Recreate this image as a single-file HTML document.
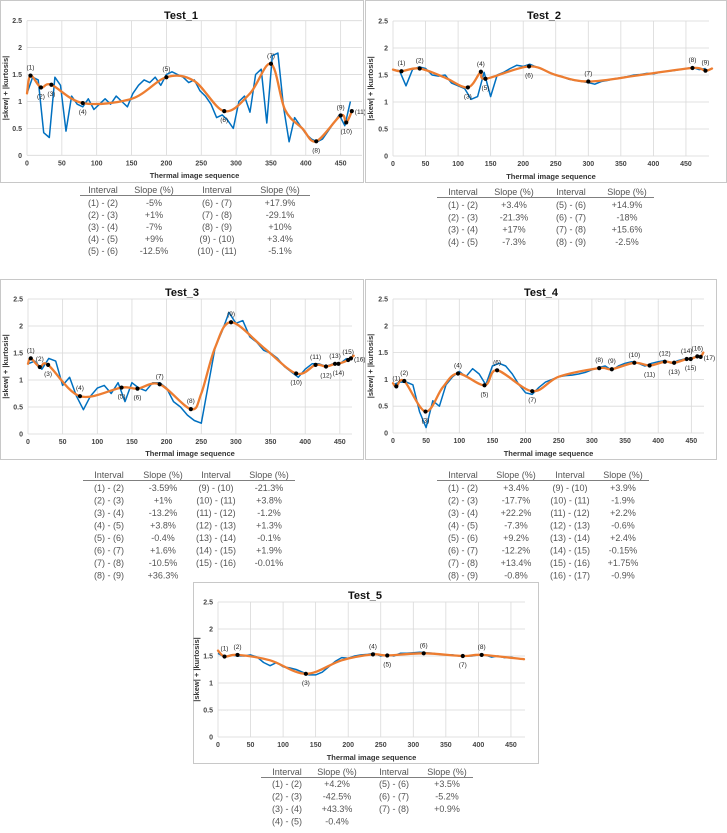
<!DOCTYPE html>
<html><head><meta charset="utf-8"><style>
body{margin:0;background:#fff}
svg{display:block;font-family:"Liberation Sans",Arial,sans-serif}
</style></head><body>
<svg id="fig" width="727" height="833" viewBox="0 0 727 833" xmlns="http://www.w3.org/2000/svg"></svg>
<script>
// ---------- Data ----------
const xTicks=[0,50,100,150,200,250,300,350,400,450];
const yTicks=[0,0.5,1,1.5,2,2.5];
const yTickLabels=["0","0.5","1","1.5","2","2.5"];

// Test_1
const t1BlueX=[0,8,16,24,32,40,48,56,64,72,80,88,96,104,112,120,128,136,144,152,160,168,176,184,192,200,208,216,224,232,240,248,256,264,272,280,288,296,304,312,320,328,336,344,352,360,368,376,384,392,400,408,416,424,432,440,448,456,464];
const t1BlueY=[1.15,1.45,1.4,0.42,0.33,1.45,1.3,0.45,1.1,0.95,0.9,1.05,0.85,0.95,1.05,0.95,1.1,1.0,0.9,1.15,1.3,1.4,1.35,1.45,1.3,1.5,1.55,1.5,1.45,1.35,1.4,1.2,1.1,0.95,0.7,0.75,0.65,0.5,1.0,1.1,0.8,1.5,1.6,0.6,1.85,1.9,0.9,0.25,0.7,0.55,0.4,0.3,0.25,0.3,0.45,0.6,0.75,0.55,1.0];
const t1TrendX=[0,5,20,35,80,150,200,240,283,320,350,370,395,415,450,458,466];
const t1TrendY=[1.15,1.48,1.26,1.31,0.97,1.05,1.45,1.38,0.82,1.15,1.70,0.85,0.5,0.26,0.74,0.61,0.82];
const t1MarkX=[5,20,35,80,200,283,350,415,450,458,466];
const t1MarkY=[1.48,1.26,1.31,0.97,1.45,0.82,1.70,0.26,0.74,0.61,0.82];
const t1LabelSide=[1,-1,-1,-1,1,-1,1,-1,1,-1,0];

// Test_2
const t2BlueX=[0,10,20,30,40,50,60,70,80,90,100,110,120,130,140,150,160,170,180,190,200,210,220,230,240,250,260,270,280,290,300,310,320,330,340,350,360,370,380,390,400,410,420,430,440,450,460,470,480];
const t2BlueY=[1.6,1.58,1.3,1.6,1.65,1.62,1.5,1.48,1.5,1.35,1.3,1.25,1.05,1.1,1.55,1.1,1.5,1.55,1.62,1.68,1.66,1.7,1.65,1.6,1.55,1.5,1.47,1.42,1.4,1.38,1.36,1.33,1.38,1.4,1.43,1.45,1.47,1.5,1.51,1.53,1.52,1.55,1.57,1.58,1.6,1.62,1.64,1.6,1.62];
const t2TrendX=[0,13,41,80,115,135,142,209,250,300,380,460,480,490];
const t2TrendY=[1.6,1.57,1.62,1.45,1.27,1.56,1.43,1.66,1.5,1.38,1.5,1.63,1.58,1.62];
const t2MarkX=[13,41,115,135,142,209,300,460,480];
const t2MarkY=[1.57,1.62,1.27,1.56,1.43,1.66,1.38,1.63,1.58];
const t2LabelSide=[1,1,-1,1,-1,-1,1,1,1];

// Test_3
const t3BlueX=[0,10,20,30,40,50,60,70,80,90,100,110,120,130,140,150,160,170,180,190,200,210,220,230,240,250,260,270,280,290,300,310,320,330,340,350,360,370,380,390,400,410,420,430,440,450,460];
const t3BlueY=[1.3,1.35,1.2,1.4,1.35,0.9,1.05,0.7,0.45,0.7,0.85,0.9,0.75,0.95,0.6,0.95,0.85,0.8,0.95,0.95,0.85,0.6,0.5,0.35,0.25,0.2,0.9,1.6,1.9,2.25,2.05,2.1,1.8,1.7,1.55,1.5,1.4,1.25,1.15,1.05,1.2,1.3,1.3,1.25,1.3,1.3,1.4];
const t3TrendX=[0,4,17,29,75,135,158,190,235,250,270,293,340,387,415,430,443,448,462,470];
const t3TrendY=[1.3,1.40,1.24,1.28,0.70,0.86,0.84,0.92,0.46,0.75,1.6,2.07,1.6,1.12,1.28,1.25,1.30,1.30,1.37,1.45];
const t3MarkX=[4,17,29,75,135,158,190,235,293,387,415,430,443,448,462,466];
const t3MarkY=[1.40,1.24,1.28,0.70,0.86,0.84,0.92,0.46,2.07,1.12,1.28,1.25,1.30,1.30,1.37,1.40];
const t3LabelSide=[1,1,-1,1,-1,-1,1,1,1,-1,1,-1,1,-1,1,0];

// Test_4
const t4BlueX=[0,10,20,30,40,50,60,70,80,90,100,110,120,130,140,150,160,170,180,190,200,210,220,230,240,250,260,270,280,290,300,310,320,330,340,350,360,370,380,390,400,410,420,430,440,450,460];
const t4BlueY=[0.9,0.95,0.95,0.9,0.4,0.1,0.6,0.5,0.9,1.05,1.15,1.05,1.2,1.1,0.9,1.25,1.3,1.25,1.1,0.9,0.75,0.72,0.85,0.95,1.0,1.05,1.07,1.08,1.1,1.13,1.18,1.22,1.25,1.17,1.25,1.3,1.33,1.3,1.25,1.3,1.33,1.35,1.3,1.35,1.38,1.4,1.44];
const t4TrendX=[0,5,17,49,75,98,138,157,210,250,311,330,364,387,410,424,443,449,459,464,468];
const t4TrendY=[0.93,0.87,0.97,0.40,0.85,1.11,0.89,1.17,0.78,1.05,1.21,1.19,1.31,1.26,1.33,1.31,1.38,1.38,1.43,1.42,1.5];
const t4MarkX=[5,17,49,98,138,157,210,311,330,364,387,410,424,443,449,459,464];
const t4MarkY=[0.87,0.97,0.40,1.11,0.89,1.17,0.78,1.21,1.19,1.31,1.26,1.33,1.31,1.38,1.38,1.43,1.42];
const t4LabelSide=[1,1,-1,1,-1,1,-1,1,1,1,-1,1,-1,1,-1,1,0];

// Test_5
const t5BlueX=[0,10,20,30,40,50,60,70,80,90,100,110,120,130,140,150,160,170,180,190,200,210,220,230,240,250,260,270,280,290,300,310,320,330,340,350,360,370,380,390,400,410,420,430,440,450,460];
const t5BlueY=[1.55,1.48,1.52,1.5,1.5,1.52,1.48,1.38,1.32,1.38,1.3,1.28,1.25,1.2,1.15,1.15,1.2,1.3,1.4,1.47,1.46,1.5,1.52,1.53,1.55,1.5,1.52,1.5,1.55,1.55,1.56,1.57,1.56,1.55,1.53,1.52,1.52,1.5,1.5,1.5,1.52,1.52,1.48,1.5,1.47,1.48,1.45];
const t5TrendX=[0,10,30,80,135,190,238,260,316,376,405,470];
const t5TrendY=[1.6,1.49,1.52,1.42,1.17,1.42,1.53,1.51,1.55,1.50,1.52,1.44];
const t5MarkX=[10,30,135,238,260,316,376,405];
const t5MarkY=[1.49,1.52,1.17,1.53,1.51,1.55,1.50,1.52];
const t5LabelSide=[1,1,-1,1,-1,1,-1,1];

// Tables
const tab1=[["(1) - (2)","-5%","(6) - (7)","+17.9%"],["(2) - (3)","+1%","(7) - (8)","-29.1%"],["(3) - (4)","-7%","(8) - (9)","+10%"],["(4) - (5)","+9%","(9) - (10)","+3.4%"],["(5) - (6)","-12.5%","(10) - (11)","-5.1%"]];
const tab2=[["(1) - (2)","+3.4%","(5) - (6)","+14.9%"],["(2) - (3)","-21.3%","(6) - (7)","-18%"],["(3) - (4)","+17%","(7) - (8)","+15.6%"],["(4) - (5)","-7.3%","(8) - (9)","-2.5%"]];
const tab3=[["(1) - (2)","-3.59%","(9) - (10)","-21.3%"],["(2) - (3)","+1%","(10) - (11)","+3.8%"],["(3) - (4)","-13.2%","(11) - (12)","-1.2%"],["(4) - (5)","+3.8%","(12) - (13)","+1.3%"],["(5) - (6)","-0.4%","(13) - (14)","-0.1%"],["(6) - (7)","+1.6%","(14) - (15)","+1.9%"],["(7) - (8)","-10.5%","(15) - (16)","-0.01%"],["(8) - (9)","+36.3%","",""]];
const tab4=[["(1) - (2)","+3.4%","(9) - (10)","+3.9%"],["(2) - (3)","-17.7%","(10) - (11)","-1.9%"],["(3) - (4)","+22.2%","(11) - (12)","+2.2%"],["(4) - (5)","-7.3%","(12) - (13)","-0.6%"],["(5) - (6)","+9.2%","(13) - (14)","+2.4%"],["(6) - (7)","-12.2%","(14) - (15)","-0.15%"],["(7) - (8)","+13.4%","(15) - (16)","+1.75%"],["(8) - (9)","-0.8%","(16) - (17)","-0.9%"]];
const tab5=[["(1) - (2)","+4.2%","(5) - (6)","+3.5%"],["(2) - (3)","-42.5%","(6) - (7)","-5.2%"],["(3) - (4)","+43.3%","(7) - (8)","+0.9%"],["(4) - (5)","-0.4%","",""]];

// ---------- Drawing ----------
const NS="http://www.w3.org/2000/svg";
const fig=document.getElementById('fig');
function mk(tag,attrs,parent,text){const e=document.createElementNS(NS,tag);for(const k in attrs)e.setAttribute(k,attrs[k]);if(text!==undefined)e.textContent=text;parent.appendChild(e);return e;}

function catmull(pts){
  let d="M"+pts[0][0].toFixed(1)+","+pts[0][1].toFixed(1);
  for(let i=0;i<pts.length-1;i++){
    const p0=pts[Math.max(i-1,0)],p1=pts[i],p2=pts[i+1],p3=pts[Math.min(i+2,pts.length-1)];
    const c1=[p1[0]+(p2[0]-p0[0])/6,p1[1]+(p2[1]-p0[1])/6];
    const c2=[p2[0]-(p3[0]-p1[0])/6,p2[1]-(p3[1]-p1[1])/6];
    d+=" C"+c1[0].toFixed(1)+","+c1[1].toFixed(1)+" "+c2[0].toFixed(1)+","+c2[1].toFixed(1)+" "+p2[0].toFixed(1)+","+p2[1].toFixed(1);
  }
  return d;
}

function drawChart(name,g,bx,by,tx,ty,mx,my,side){
  const grp=mk('g',{},fig);
  
  
  const sx=v=>g.x0+v*g.xs;
  const sy=v=>g.y0-v*(g.y0-g.yt)/2.5;
  const box=mk('rect',{x:g.box[0]+0.5,y:g.box[1]+0.5,width:g.box[2],height:g.box[3],fill:'#fff',stroke:'#c8c8c8'},grp);
  
  
  yTicks.forEach((v,i)=>{
    const gl=mk('line',{x1:g.x0,x2:g.right,y1:sy(v),y2:sy(v),stroke:'#d9d9d9','stroke-width':0.8},grp);
    
    
    const t=mk('text',{x:g.x0-5,y:sy(v)+2.5,'font-size':7,'font-weight':'bold',fill:'#444','text-anchor':'end'},grp,yTickLabels[i]);
    
    
  });
  xTicks.forEach(v=>{
    const gl=mk('line',{x1:sx(v),x2:sx(v),y1:g.yt,y2:g.y0,stroke:'#d9d9d9','stroke-width':0.8},grp);
    
    
    const t=mk('text',{x:sx(v),y:g.y0+10,'font-size':7,'font-weight':'bold',fill:'#444','text-anchor':'middle'},grp,String(v));
    
    
  });
  const title=mk('text',{x:g.tx,y:g.ty+4,'font-size':11,'font-weight':'bold',fill:'#111','text-anchor':'middle'},grp,name);
  
  
  const xt=mk('text',{x:(g.x0+g.right)/2,y:g.xty+3,'font-size':7.5,'font-weight':'bold',fill:'#333','text-anchor':'middle'},grp,'Thermal image sequence');
  
  
  const yc=(g.y0+g.yt)/2;
  const yt=mk('text',{x:g.ylx,y:yc,'font-size':7.5,'font-weight':'bold',fill:'#333','text-anchor':'middle',transform:'rotate(-90 '+g.ylx+' '+yc+')'},grp,'|skew| + |kurtosis|');
  
  
  const bp=bx.map((v,i)=>(i?'L':'M')+sx(v).toFixed(1)+','+sy(by[i]).toFixed(1)).join(' ');
  const bl=mk('path',{d:bp,fill:'none',stroke:'#0070C0','stroke-width':1.5,'stroke-linejoin':'round'},grp);
  
  
  const tl=mk('path',{d:catmull(tx.map((v,i)=>[sx(v),sy(ty[i])])),fill:'none',stroke:'#ED7D31','stroke-width':2.3,'stroke-linecap':'round'},grp);
  
  
  mx.forEach((v,i)=>{
    const c=mk('circle',{cx:sx(v),cy:sy(my[i]),r:2.1,fill:'#000'},grp);
    
    
    let lx=sx(v),ly=sy(my[i]),anc='middle';
    if(side[i]===1)ly-=6;else if(side[i]===-1)ly+=11;else{lx+=3;ly+=3;anc='start';}
    const t=mk('text',{x:lx,y:ly,'font-size':6.5,fill:'#222','text-anchor':anc},grp,'('+(i+1)+')');
    
    
  });
}

function drawTable(name,rows,t){
  const grp=mk('g',{},fig);
  
  
  const hdr=["Interval","Slope (%)","Interval","Slope (%)"];
  hdr.forEach((h,j)=>{
    const e=mk('text',{x:t.cols[j],y:t.hy+3,'font-size':9,fill:'#555','text-anchor':'middle'},grp,h);
    
    
  });
  const ln=mk('line',{x1:t.lx[0],x2:t.lx[1],y1:t.ly,y2:t.ly,stroke:'#555','stroke-width':0.8},grp);
  
  
  rows.forEach((r,i)=>{
    r.forEach((c,j)=>{
      if(!c)return;
      const e=mk('text',{x:t.cols[j],y:t.r0+i*t.dr+3,'font-size':9,fill:'#555','text-anchor':'middle'},grp,c);
      
      
    });
  });
}

drawChart('Test_1',{x0:27,xs:0.697,y0:155.3,yt:20.7,right:362,box:[0,0,363,182],tx:181,ty:15,xty:175,ylx:8},t1BlueX,t1BlueY,t1TrendX,t1TrendY,t1MarkX,t1MarkY,t1LabelSide);
drawChart('Test_2',{x0:393,xs:0.651,y0:156,yt:21,right:709,box:[365,0,361,182],tx:544,ty:15,xty:176,ylx:373},t2BlueX,t2BlueY,t2TrendX,t2TrendY,t2MarkX,t2MarkY,t2LabelSide);
drawChart('Test_3',{x0:28,xs:0.693,y0:434,yt:299,right:352,box:[0,279,363,180],tx:182,ty:292,xty:453,ylx:8},t3BlueX,t3BlueY,t3TrendX,t3TrendY,t3MarkX,t3MarkY,t3LabelSide);
drawChart('Test_4',{x0:393,xs:0.663,y0:433,yt:299,right:704,box:[365,279,351,180],tx:541,ty:292,xty:453,ylx:373},t4BlueX,t4BlueY,t4TrendX,t4TrendY,t4MarkX,t4MarkY,t4LabelSide);
drawChart('Test_5',{x0:218,xs:0.651,y0:737,yt:602,right:525,box:[193,582,345,181],tx:365,ty:595,xty:757,ylx:199},t5BlueX,t5BlueY,t5TrendX,t5TrendY,t5MarkX,t5MarkY,t5LabelSide);

drawTable('test-1-slope-table',tab1,{cols:[103,154,217,280],hy:190,lx:[80,310],ly:195.5,r0:203,dr:12});
drawTable('test-2-slope-table',tab2,{cols:[463,514,571,627],hy:192,lx:[437,654],ly:197.5,r0:205,dr:12.3});
drawTable('test-3-slope-table',tab3,{cols:[109,163,216,269],hy:475,lx:[83,295],ly:480.5,r0:488,dr:12.5});
drawTable('test-4-slope-table',tab4,{cols:[463,516,570,623],hy:475,lx:[437,649],ly:480.5,r0:488,dr:12.5});
drawTable('test-5-slope-table',tab5,{cols:[287,337,394,447],hy:772,lx:[261,473],ly:777.5,r0:784,dr:12.5});
</script>
</body></html>
